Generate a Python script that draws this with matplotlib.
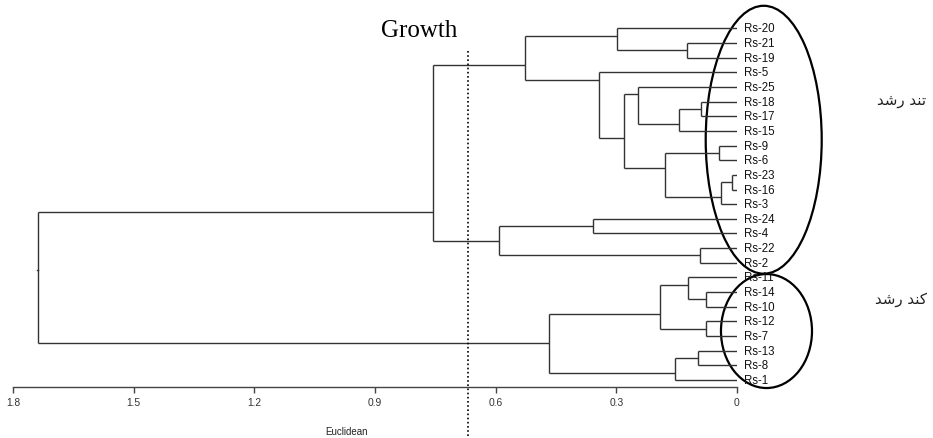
import matplotlib
matplotlib.use("Agg")
import matplotlib.pyplot as plt
from matplotlib.patches import Ellipse

# leaf labels, top to bottom
leaves = ["Rs-20", "Rs-21", "Rs-19", "Rs-5", "Rs-25", "Rs-18", "Rs-17", "Rs-15",
          "Rs-9", "Rs-6", "Rs-23", "Rs-16", "Rs-3", "Rs-24", "Rs-4", "Rs-22",
          "Rs-2", "Rs-11", "Rs-14", "Rs-10", "Rs-12", "Rs-7", "Rs-13", "Rs-8", "Rs-1"]

# merges like a linkage table: new node ids start at len(leaves)
merge_left = [10, 8, 25, 18, 20, 5, 15, 22, 17, 1, 30, 32, 26, 33, 4, 39, 0, 3, 13, 38, 41, 43, 45, 47]
merge_right = [11, 9, 12, 19, 21, 6, 16, 23, 28, 2, 7, 24, 27, 29, 35, 37, 34, 40, 14, 36, 42, 31, 46, 44]
merge_height = [0.013, 0.044, 0.0406, 0.078, 0.078, 0.0895, 0.092, 0.096, 0.121, 0.124,
                0.143, 0.154, 0.178, 0.191, 0.245, 0.281, 0.298, 0.342, 0.357, 0.467,
                0.526, 0.591, 0.755, 1.737]

x_ticks = [1.8, 1.5, 1.2, 0.9, 0.6, 0.3, 0]
x_tick_labels = ["1.8", "1.5", "1.2", "0.9", "0.6", "0.3", "0"]
cut_height = 0.668

# persian group labels, written in presentation forms and visual order
fast_label = "\uFEAA\uFEB7\uFEAD \uFEAA\uFEE8\uFE97"   # tand roshd
slow_label = "\uFEAA\uFEB7\uFEAD \uFEAA\uFEE8\uFEDB"   # kond roshd

line_color = "#333333"

fig = plt.figure(figsize=(9.33, 4.39), dpi=100)
ax = fig.add_axes([13 / 933, 51 / 439, 724 / 933, 368 / 439])
ax.set_xlim(1.8, 0)
ax.set_ylim(24.48, -0.642)

# node info: id -> (height, y, first leaf, last leaf)
nodes = {}
for i in range(len(leaves)):
    nodes[i] = (0.0, float(i), i, i)

for k, (a, b, h) in enumerate(zip(merge_left, merge_right, merge_height)):
    ha_, ya, fa, la = nodes[a]
    hb, yb, fb, lb = nodes[b]
    # node sits between the two leaves on either side of the split
    y = (la + fb) / 2.0
    ax.plot([ha_, h], [ya, ya], color=line_color, lw=1.0, solid_capstyle="butt")
    ax.plot([hb, h], [yb, yb], color=line_color, lw=1.0, solid_capstyle="butt")
    ax.plot([h, h], [ya, yb], color=line_color, lw=1.0, solid_capstyle="butt")
    nodes[len(leaves) + k] = (h, y, fa, lb)

# little stub on the root
root = nodes[len(leaves) + len(merge_height) - 1]
ax.plot([root[0], root[0] + 0.004], [root[1], root[1]], color=line_color, lw=1.0, clip_on=False)

for i, name in enumerate(leaves):
    ax.annotate(name, xy=(0, i), xytext=(5, 0), textcoords="offset points",
                ha="left", va="center", fontsize=8.3, family="Liberation Sans",
                color="#111111", annotation_clip=False)

# cut line
ax.plot([cut_height, cut_height], [1.54, 27.96], color="black", lw=1.2,
        linestyle=(0, (1, 1.5)), clip_on=False)

# group ellipses
ax.add_patch(Ellipse((-0.0664, 7.60), 0.2884, 18.29, fill=False, edgecolor="black",
                     lw=1.6, clip_on=False))
ax.add_patch(Ellipse((-0.0733, 20.66), 0.2263, 7.78, fill=False, edgecolor="black",
                     lw=1.6, clip_on=False))

for side in ["top", "left", "right"]:
    ax.spines[side].set_visible(False)
ax.spines["bottom"].set_color("#444444")
ax.spines["bottom"].set_linewidth(1.0)
ax.set_yticks([])
ax.set_xticks(x_ticks)
ax.set_xticklabels(x_tick_labels, fontsize=7.4, family="Liberation Sans", color="#333333")
ax.tick_params(axis="x", direction="out", length=4.5, width=1.0, color="#444444", pad=3)
ax.patch.set_visible(False)

fig.text(346.7 / 933, 1 - 431.7 / 439, "Euclidean", ha="center", va="center",
         fontsize=7, family="Liberation Sans", color="#222222")
fig.text(419.5 / 933, 1 - 31 / 439, "Growth", ha="center", va="center",
         fontsize=18, family="Liberation Serif", color="black")
fig.text(926 / 933, 1 - 101 / 439, fast_label, ha="right", va="center",
         fontsize=10.8, family="DejaVu Sans", color="#222222")
fig.text(927 / 933, 1 - 300 / 439, slow_label, ha="right", va="center",
         fontsize=10.8, family="DejaVu Sans", color="#222222")

fig.savefig("out.png", dpi=100)
